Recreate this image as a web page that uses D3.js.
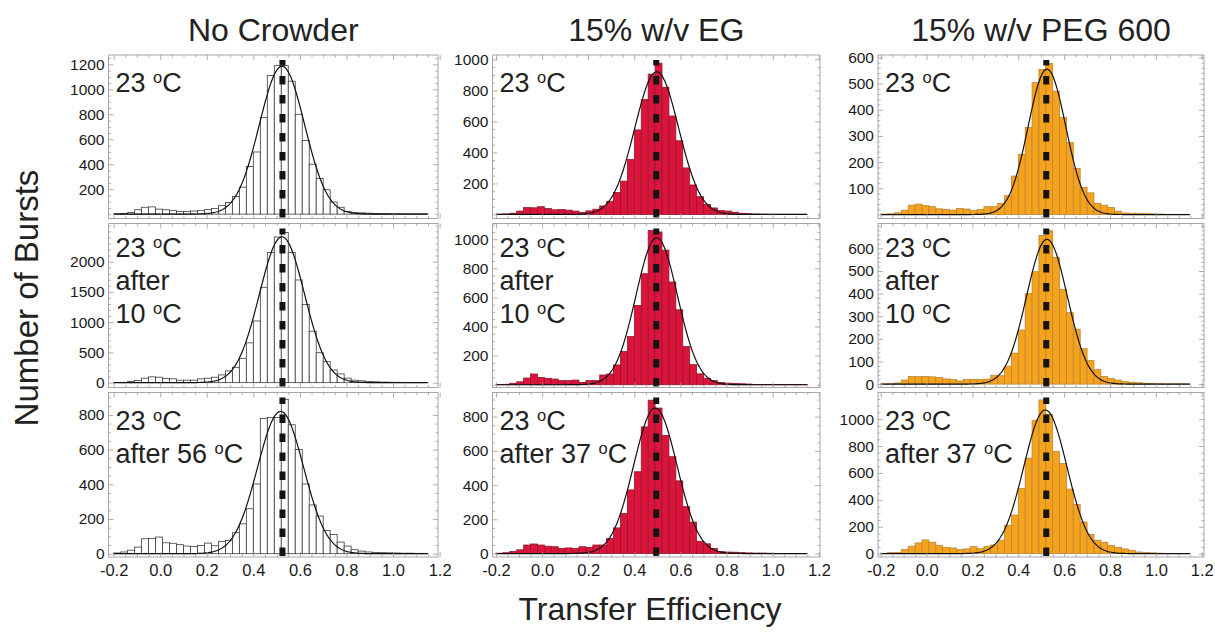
<!DOCTYPE html>
<html>
<head>
<meta charset="utf-8">
<script src="https://cdn.jsdelivr.net/npm/d3@7"></script>
<style>
  body { margin: 0; background: #ffffff; }
  svg text { font-family: "Liberation Sans", Arial, Helvetica, sans-serif; }
</style>
</head>
<body>
<svg id="chart" width="1215" height="633"></svg>
<script>
// ---- data -------------------------------------------------------------
// Histogram bins: 45 bins of width 0.03 starting at E = -0.2
const binStart = -0.2;
const binWidth = 0.03;

const columnTitles = ["No Crowder", "15% w/v EG", "15% w/v PEG 600"];

const panelLabels = [
  [["23 °C"], ["23 °C", "after", "10 °C"], ["23 °C", "after 56 °C"]],
  [["23 °C"], ["23 °C", "after", "10 °C"], ["23 °C", "after 37 °C"]],
  [["23 °C"], ["23 °C", "after", "10 °C"], ["23 °C", "after 37 °C"]]
];

const xTicks = [-0.2, 0.0, 0.2, 0.4, 0.6, 0.8, 1.0, 1.2];

// burst counts per FRET efficiency bin
const noCrowder23 = [3, 5, 12, 35, 55, 58, 40, 35, 28, 22, 22, 25, 28, 36, 46, 68, 94, 142, 216, 381,
  498, 775, 1110, 1190, 1190, 1065, 800, 590, 400, 285, 195, 97, 55, 22, 12, 10, 8, 5, 4, 3, 3, 2, 2, 2, 2];
const noCrowderAfter10 = [3, 5, 20, 35, 74, 96, 90, 68, 63, 41, 41, 41, 63, 74, 90, 128, 194, 254, 402, 658,
  1019, 1576, 2150, 2407, 2480, 2150, 1697, 1293, 850, 495, 347, 210, 145, 74, 41, 30, 20, 14, 10, 8, 6, 5, 4, 3, 3];
const noCrowderAfter56 = [4, 10, 20, 38, 86, 88, 96, 63, 60, 52, 44, 42, 48, 61, 46, 71, 77, 121, 172, 259,
  402, 780, 785, 785, 890, 743, 600, 402, 281, 217, 134, 111, 67, 44, 23, 15, 10, 7, 6, 5, 4, 3, 3, 2, 2];

const eg23 = [2, 3, 8, 22, 45, 43, 50, 38, 30, 32, 28, 22, 13, 23, 34, 55, 85, 142, 215, 355,
  545, 742, 905, 975, 820, 635, 475, 300, 190, 115, 65, 42, 25, 22, 15, 8, 5, 3, 2, 1, 1, 1, 1, 1, 1];
const egAfter10 = [2, 3, 10, 20, 46, 74, 50, 44, 39, 28, 28, 32, 16, 28, 30, 67, 74, 136, 228, 331,
  545, 763, 1060, 1050, 925, 706, 515, 262, 138, 75, 45, 28, 16, 11, 9, 7, 5, 2, 1, 1, 1, 1, 1, 1, 1];
const egAfter37 = [2, 5, 12, 22, 50, 56, 50, 43, 40, 30, 33, 30, 40, 36, 50, 50, 88, 150, 234, 372,
  478, 740, 896, 850, 690, 566, 425, 274, 184, 72, 57, 30, 12, 9, 8, 6, 4, 3, 3, 2, 1, 1, 1, 1, 1];

const peg23 = [2, 3, 7, 17, 36, 40, 34, 30, 22, 20, 17, 23, 21, 15, 20, 30, 30, 43, 72, 147,
  230, 332, 504, 554, 577, 471, 371, 275, 176, 104, 83, 43, 36, 27, 13, 6, 5, 5, 4, 3, 2, 1, 1, 1, 1];
const pegAfter10 = [1, 2, 5, 18, 34, 33, 33, 32, 29, 23, 20, 14, 21, 21, 21, 22, 39, 37, 79, 137,
  239, 400, 497, 657, 678, 560, 418, 316, 243, 157, 104, 64, 34, 25, 18, 11, 8, 6, 4, 3, 2, 1, 1, 1, 1];
const pegAfter37 = [2, 8, 8, 30, 55, 80, 102, 85, 62, 47, 42, 30, 35, 52, 37, 55, 65, 100, 210, 287,
  484, 710, 992, 1143, 1035, 760, 670, 480, 365, 235, 143, 100, 85, 60, 47, 35, 25, 12, 8, 6, 3, 2, 1, 1, 1];

// Gaussian fits: [amplitude, centre, width]
const fitNoCrowder = [[1185, 0.523, 0.097], [2410, 0.523, 0.097], [820, 0.517, 0.099]];
const fitEG        = [[920, 0.497, 0.095], [1010, 0.497, 0.090], [850, 0.491, 0.094]];
const fitPEG       = [[555, 0.525, 0.082], [640, 0.525, 0.089], [1068, 0.518, 0.094]];

// mean transfer efficiency (dashed marker)
const meanNoCrowder = [0.525, 0.525, 0.525];
const meanEG        = [0.495, 0.495, 0.495];
const meanPEG       = [0.522, 0.522, 0.522];

// y-axis labelled ticks per panel [column][row]
const yTicks = [
  [[200, 400, 600, 800, 1000, 1200], [0, 500, 1000, 1500, 2000], [0, 200, 400, 600, 800]],
  [[200, 400, 600, 800, 1000], [200, 400, 600, 800, 1000], [0, 200, 400, 600, 800]],
  [[100, 200, 300, 400, 500, 600], [0, 100, 200, 300, 400, 500, 600], [0, 200, 400, 600, 800, 1000]]
];
const yMinorStep = [[50, 100, 50], [50, 50, 50], [20, 20, 50]];
const yDomains = [
  [[-35, 1275], [-80, 2630], [-19, 929]],
  [[-26, 1028], [-19, 1108], [-20, 941]],
  [[-15, 609], [-15, 710], [-25, 1198]]
];

const countsByPanel = [
  [noCrowder23, noCrowderAfter10, noCrowderAfter56],
  [eg23, egAfter10, egAfter37],
  [peg23, pegAfter10, pegAfter37]
];
const fits = [fitNoCrowder, fitEG, fitPEG];
const means = [meanNoCrowder, meanEG, meanPEG];

// ---- layout & style ---------------------------------------------------
const colX = [[108.5, 438], [492.5, 820], [878, 1204]];
const rowY = [[55, 218.5], [223.5, 387.5], [392.5, 557]];
const xDomains = [[-0.222, 1.193], [-0.215, 1.205], [-0.212, 1.21]];

const barStyle = [
  { fill: "#ffffff", stroke: "#3c3c3c" },
  { fill: "#dc143c", stroke: "#8e1b2e" },
  { fill: "#f7a21b", stroke: "#b8873a" }
];
const frameColor = "#a8a8a8";
const labelFirstBaseline = [37, 33.5, 37];
const labelLineGap = 33;

const svg = d3.select("#chart");

function drawLabel(g, text, x, y) {
  const t = g.append("text")
    .attr("x", x).attr("y", y)
    .attr("font-size", 27).attr("fill", "#222");
  const parts = text.split("°");
  t.append("tspan").text(parts[0]);
  if (parts.length > 1) {
    t.append("tspan").attr("font-size", 16.5).attr("dy", -9).text("o");
    t.append("tspan").attr("dy", 9).text(parts[1]);
  }
}

function styleAxis(g) {
  g.select(".domain").remove();
  g.selectAll(".tick line").attr("stroke", "#9a9a9a").attr("stroke-width", 0.8);
}

for (let c = 0; c < 3; c++) {
  for (let r = 0; r < 3; r++) {
    const [x0, x1] = colX[c];
    const [y0, y1] = rowY[r];
    const x = d3.scaleLinear().domain(xDomains[c]).range([x0, x1]);
    const y = d3.scaleLinear().domain(yDomains[c][r]).range([y1, y0]);
    const g = svg.append("g");
    const counts = countsByPanel[c][r];

    // histogram bars
    g.append("g").selectAll("rect")
      .data(counts)
      .join("rect")
      .attr("x", (d, i) => x(binStart + i * binWidth))
      .attr("width", (d, i) => x(binStart + (i + 1) * binWidth) - x(binStart + i * binWidth))
      .attr("y", d => y(d))
      .attr("height", d => y(0) - y(d))
      .attr("fill", barStyle[c].fill)
      .attr("stroke", barStyle[c].stroke)
      .attr("stroke-width", 0.8);

    // Gaussian fit
    const [amp, mu, sd] = fits[c][r];
    const xs = d3.range(binStart, binStart + counts.length * binWidth + 1e-9, 0.004);
    const line = d3.line()
      .x(e => x(e))
      .y(e => y(amp * Math.exp(-0.5 * ((e - mu) / sd) ** 2)));
    g.append("path")
      .datum(xs)
      .attr("d", line)
      .attr("fill", "none")
      .attr("stroke", "#111")
      .attr("stroke-width", 1.2);

    // mean marker
    g.append("line")
      .attr("x1", x(means[c][r])).attr("x2", x(means[c][r]))
      .attr("y1", y1 - 1).attr("y2", y0 + 5)
      .attr("stroke", "#141414")
      .attr("stroke-width", 6)
      .attr("stroke-dasharray", "8.5,10.5");

    // frame
    g.append("rect")
      .attr("x", x0).attr("y", y0)
      .attr("width", x1 - x0).attr("height", y1 - y0)
      .attr("fill", "none")
      .attr("stroke", frameColor)
      .attr("stroke-width", 1);

    // ticks
    const [dmin, dmax] = yDomains[c][r];
    const step = yMinorStep[c][r];
    const yMinor = d3.range(Math.ceil(dmin / step) * step, dmax, step)
      .filter(v => !yTicks[c][r].includes(v));
    const xMinor = d3.range(-0.2, 1.2001, 0.05)
      .filter(v => !xTicks.some(t => Math.abs(t - v) < 1e-6));

    const left = g.append("g").attr("transform", `translate(${x0},0)`)
      .call(d3.axisLeft(y).tickValues(yTicks[c][r]).tickSize(-5).tickPadding(4).tickFormat(d3.format("d")))
      .call(styleAxis);
    left.selectAll("text")
      .attr("font-family", "'DejaVu Sans', sans-serif")
      .attr("font-size", 15.5)
      .attr("fill", "#1a1a1a");
    g.append("g").attr("transform", `translate(${x0},0)`)
      .call(d3.axisLeft(y).tickValues(yMinor).tickSize(-2.5).tickFormat(""))
      .call(styleAxis);
    g.append("g").attr("transform", `translate(${x1},0)`)
      .call(d3.axisRight(y).tickValues(yTicks[c][r]).tickSize(-5).tickFormat(""))
      .call(styleAxis);
    g.append("g").attr("transform", `translate(${x1},0)`)
      .call(d3.axisRight(y).tickValues(yMinor).tickSize(-2.5).tickFormat(""))
      .call(styleAxis);

    const bottom = g.append("g").attr("transform", `translate(0,${y1})`)
      .call(d3.axisBottom(x).tickValues(xTicks).tickSize(-5).tickPadding(7)
        .tickFormat(r === 2 ? (d => d.toFixed(1)) : ""))
      .call(styleAxis);
    bottom.selectAll("text")
      .attr("font-family", "'Liberation Sans', Arial, sans-serif")
      .attr("font-size", 16.5)
      .attr("fill", "#1a1a1a");
    g.append("g").attr("transform", `translate(0,${y1})`)
      .call(d3.axisBottom(x).tickValues(xMinor).tickSize(-2.5).tickFormat(""))
      .call(styleAxis);
    g.append("g").attr("transform", `translate(0,${y0})`)
      .call(d3.axisTop(x).tickValues(xTicks).tickSize(-5).tickFormat(""))
      .call(styleAxis);
    g.append("g").attr("transform", `translate(0,${y0})`)
      .call(d3.axisTop(x).tickValues(xMinor).tickSize(-2.5).tickFormat(""))
      .call(styleAxis);

    // condition label
    panelLabels[c][r].forEach((txt, k) => {
      drawLabel(g, txt, x0 + 7, y0 + labelFirstBaseline[r] + k * labelLineGap);
    });
  }
}

// column titles
columnTitles.forEach((t, c) => {
  svg.append("text")
    .attr("x", (colX[c][0] + colX[c][1]) / 2)
    .attr("y", 41)
    .attr("text-anchor", "middle")
    .attr("font-size", 32)
    .attr("fill", "#222")
    .text(t);
});

// axis titles
svg.append("text")
  .attr("transform", "translate(38,298) rotate(-90)")
  .attr("text-anchor", "middle")
  .attr("font-size", 33)
  .attr("fill", "#222")
  .text("Number of Bursts");

svg.append("text")
  .attr("x", 650)
  .attr("y", 620)
  .attr("text-anchor", "middle")
  .attr("font-size", 32)
  .attr("fill", "#222")
  .text("Transfer Efficiency");
</script>
</body>
</html>
